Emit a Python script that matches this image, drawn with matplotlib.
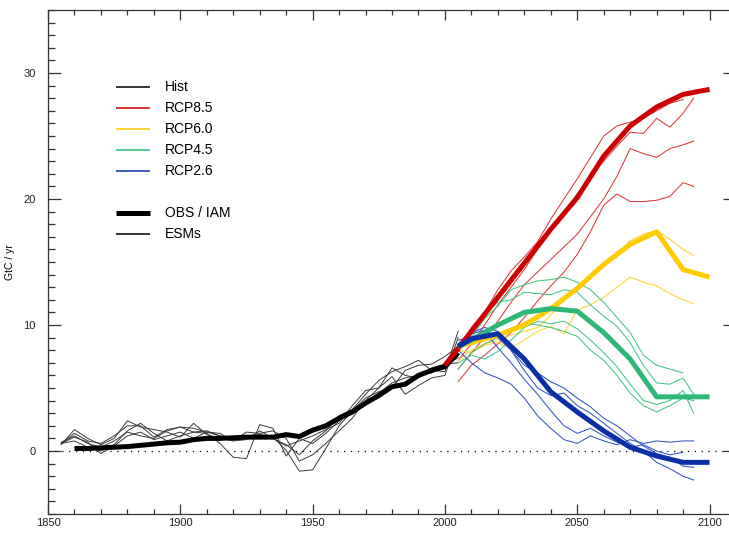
import matplotlib.pyplot as plt
from matplotlib.ticker import MultipleLocator

plt.rcParams['font.family'] = ['Liberation Sans', 'DejaVu Sans']

# ---- historical period -------------------------------------------------
hist_years = [1855, 1860, 1865, 1870, 1875, 1880, 1885, 1890, 1895,
              1900, 1905, 1910, 1915, 1920, 1925, 1930, 1935, 1940, 1945,
              1950, 1955, 1960, 1965, 1970, 1975, 1980, 1985, 1990, 1995,
              2000, 2005]
hist_esm1 = [0.7, 1.2, 0.6, 0.3, 0.8, 1.5, 1.2, 1.0, 1.6, 1.9, 1.5, 1.6, 1.2,
             0.9, 1.0, 1.3, 1.1, 0.05, -1.6, -1.5, 0.2, 2.0, 3.2, 4.2, 4.7, 5.0,
             6.4, 6.8, 6.9, 7.5, 8.3]
hist_esm2 = [0.6, 0.8, 0.3, 0.0, 0.5, 1.6, 2.2, 1.4, 0.8, 1.2, 1.5, 1.4, 0.6,
             -0.5, -0.6, 2.1, 1.8, -0.4, 1.0, 0.6, 1.4, 2.4, 3.0, 3.8, 4.6, 5.4,
             5.8, 6.0, 6.2, 6.8, 7.4]
hist_esm3 = [0.5, 1.7, 1.0, 0.5, 1.0, 2.4, 1.9, 1.7, 1.5, 1.1, 2.2, 1.3, 1.0,
             0.8, 1.5, 1.4, 1.6, 1.0, -0.8, -0.3, 0.6, 1.6, 2.6, 4.0, 5.0, 5.9,
             4.5, 5.2, 5.8, 6.0, 9.0]
hist_esm4 = [0.6, 1.4, 0.8, 0.6, 1.2, 2.0, 2.0, 1.1, 1.7, 1.9, 1.8, 1.5, 1.2,
             1.0, 1.2, 1.3, 1.0, 0.5, -0.3, 0.8, 1.6, 2.8, 3.3, 4.5, 5.6, 6.3,
             6.7, 7.2, 6.4, 6.3, 9.5]
hist_esm5 = [0.6, 1.1, 0.7, -0.2, 0.4, 1.2, 1.5, 0.9, 1.2, 1.5, 1.0, 1.5, 1.4,
             0.8, 0.9, 1.6, 1.0, 0.4, 0.8, 1.2, 1.7, 2.2, 3.6, 4.8, 5.0, 6.6,
             6.0, 5.8, 6.6, 6.9, 7.0]

obs_years = hist_years[1:]
obs_vals = [0.2, 0.2, 0.25, 0.3, 0.35, 0.45, 0.55, 0.65, 0.7, 0.9, 1.0, 1.0, 1.05,
            1.1, 1.1, 1.1, 1.3, 1.15, 1.65, 2.0, 2.6, 3.1, 3.8, 4.4, 5.1, 5.3,
            6.0, 6.4, 6.7, 7.8]

# ---- scenarios: IAM (thick) ---------------------------------------------
rcp85_iam_years = [2000, 2010, 2020, 2030, 2040, 2050, 2060, 2070, 2080, 2090, 2100]
rcp85_iam = [6.8, 9.5, 12.2, 14.9, 17.6, 20.1, 23.4, 25.8, 27.3, 28.3, 28.7]
iam_years = [2005, 2010, 2020, 2030, 2040, 2050, 2060, 2070, 2080, 2090, 2100]
rcp60_iam = [8.3, 8.6, 9.2, 10.0, 11.3, 12.9, 14.8, 16.4, 17.4, 14.4, 13.8]
rcp45_iam = [8.3, 8.8, 10.0, 11.0, 11.3, 11.1, 9.4, 7.3, 4.3, 4.3, 4.3]
rcp26_iam = [8.3, 8.9, 9.3, 7.3, 4.7, 3.1, 1.6, 0.3, -0.4, -0.9, -0.9]

# ---- scenarios: ESMs (thin) ---------------------------------------------
fut_years = [2005, 2010, 2015, 2020, 2025, 2030, 2035, 2040, 2045, 2050,
             2055, 2060, 2065, 2070, 2075, 2080, 2085, 2090, 2094]
rcp85_esm = [
    [8.0, 9.8, 11.0, 12.8, 14.3, 15.4, 16.6, 18.4, 20.0, 21.6, 23.3, 25.0, 25.8,
     26.1, 26.4, 27.0, 27.6, 27.9],
    [7.2, 8.5, 10.0, 11.6, 13.0, 14.4, 16.0, 17.4, 19.0, 20.4, 21.8, 23.0, 24.2,
     25.3, 25.2, 26.4, 25.7, 26.8, 28.0],
    [6.5, 7.8, 9.0, 10.3, 11.8, 13.2, 14.2, 15.2, 16.2, 17.2, 18.6, 20.0, 21.8,
     24.0, 23.6, 23.3, 24.0, 24.3, 24.6],
    [5.5, 6.8, 7.6, 8.5, 9.4, 10.6, 11.9, 13.1, 14.2, 15.6, 17.4, 19.5, 20.4,
     19.8, 19.8, 19.9, 20.2, 21.3, 21.0],
]
rcp60_esm = [
    [7.2, 8.0, 8.5, 8.8, 9.2, 9.5, 9.8, 10.8, 12.0, 13.0, 13.9, 14.6, 15.6, 16.7,
     17.2, 17.5, 16.8, 16.0, 15.5],
    [8.0, 7.8, 8.4, 8.6, 8.2, 8.8, 9.5, 9.9, 9.3, 11.2, 11.6, 12.2, 13.0, 13.8,
     13.4, 13.1, 12.5, 12.0, 11.7],
]
rcp45_esm = [
    [8.0, 9.0, 10.5, 11.5, 12.8, 13.2, 13.5, 13.6, 13.8, 13.4, 12.8, 11.8, 10.6,
     9.4, 7.6, 6.8, 6.5, 6.2],
    [8.5, 9.5, 10.8, 11.8, 12.0, 12.6, 12.5, 12.4, 12.8, 12.6, 11.6, 10.7, 9.9,
     8.6, 6.8, 5.4, 5.3, 5.8, 4.5],
    [7.0, 7.6, 7.3, 7.9, 8.8, 9.8, 10.3, 10.1, 10.3, 9.7, 8.8, 7.8, 6.7, 5.3,
     4.0, 3.7, 4.0, 4.8, 3.0],
    [6.5, 7.8, 8.5, 9.0, 9.5, 10.2, 10.0, 9.8, 9.5, 9.1, 8.0, 7.2, 6.0, 4.6,
     3.6, 3.1, 3.6, 4.2, 4.0],
]
rcp26_esm = [
    [8.0, 7.0, 6.2, 5.8, 5.3, 4.2, 2.8, 1.8, 0.9, 0.6, 1.2, 0.8, 0.5, 0.9, 0.6,
     0.8, 0.7, 0.8, 0.8],
    [8.5, 9.3, 9.6, 9.0, 8.0, 6.8, 6.2, 5.5, 5.0, 4.2, 3.5, 2.6, 2.0, 1.2, 0.4,
     -0.2, -0.5, -1.2, -1.3],
    [8.5, 9.4, 9.8, 9.5, 8.0, 6.4, 5.0, 4.4, 4.6, 3.6, 3.0, 2.2, 1.4, 0.6, 0.0,
     -0.9, -1.4, -2.0, -2.3],
    [8.8, 9.0, 9.5, 8.2, 7.0, 5.7, 4.5, 3.2, 2.0, 1.4, 1.8, 1.2, 0.7, 0.3, 0.5,
     0.0, -0.3, -0.1],
]

thick_cols = ['#cc0000', '#ffcc00', '#2db877', '#0a2ea8']
thin_cols = ['#dd3a3a', '#ffd22e', '#45c489', '#3454cc']

fig = plt.figure(figsize=(7.29, 5.35), dpi=100)
ax = fig.add_axes([48 / 729, 1 - 514 / 535, (736 - 48) / 729, (514 - 10) / 535])

ax.axhline(0, color='k', lw=0.9, ls=(0, (1, 4.5)))

# historical ESMs and observations
for vals in [hist_esm1, hist_esm2, hist_esm3, hist_esm4, hist_esm5]:
    ax.plot(hist_years, vals, color='#3a3a3a', lw=0.7)

# scenario ESMs
for esms, col in zip([rcp85_esm, rcp60_esm, rcp45_esm, rcp26_esm], thin_cols):
    for vals in esms:
        ax.plot(fut_years[:len(vals)], vals, color=col, lw=0.75)

ax.plot(obs_years, obs_vals, color='k', lw=3.6, solid_capstyle='butt')

# IAM scenarios
ax.plot(rcp85_iam_years, rcp85_iam, color=thick_cols[0], lw=3.6, solid_capstyle='butt')
for vals, col in zip([rcp60_iam, rcp45_iam, rcp26_iam], thick_cols[1:]):
    ax.plot(iam_years, vals, color=col, lw=3.6, solid_capstyle='butt')

ax.set_xlim(1850, 2110)
ax.set_ylim(-5, 35)
ax.xaxis.set_major_locator(MultipleLocator(50))
ax.xaxis.set_minor_locator(MultipleLocator(10))
ax.yaxis.set_major_locator(MultipleLocator(10))
ax.yaxis.set_minor_locator(MultipleLocator(1))
ax.tick_params(axis='both', which='both', direction='in', top=True, right=True,
               colors='#333333', labelcolor='#222222', labelsize=8, width=0.9)
ax.tick_params(axis='x', which='major', length=7.2, pad=3)
ax.tick_params(axis='x', which='minor', length=3.6)
ax.tick_params(axis='y', which='major', length=9.4, pad=9)
ax.tick_params(axis='y', which='minor', length=5)
for s in ax.spines.values():
    s.set_color('#333333')
    s.set_linewidth(0.9)
ax.set_ylabel('GtC / yr', fontsize=7.5)
ax.yaxis.set_label_coords(-(48 - 15) / 688, 0.5)

# legend
leg_rows = [('Hist', 'k', 1.1), ('RCP8.5', thick_cols[0], 1.1),
            ('RCP6.0', thick_cols[1], 1.1), ('RCP4.5', thick_cols[2], 1.1),
            ('RCP2.6', thick_cols[3], 1.1), None,
            ('OBS / IAM', 'k', 3.6), ('ESMs', 'k', 1.1)]
y0 = (514 - 86.7) / 504
dy = 21 / 504
for i, row in enumerate(leg_rows):
    if row is None:
        continue
    lab, col, lw = row
    yy = y0 - i * dy
    ax.plot([0.0988, 0.148], [yy, yy], color=col, lw=lw, transform=ax.transAxes,
            solid_capstyle='butt')
    ax.text(0.170, yy, lab, transform=ax.transAxes, fontsize=10, va='center')

fig.savefig('out.png', dpi=100)
